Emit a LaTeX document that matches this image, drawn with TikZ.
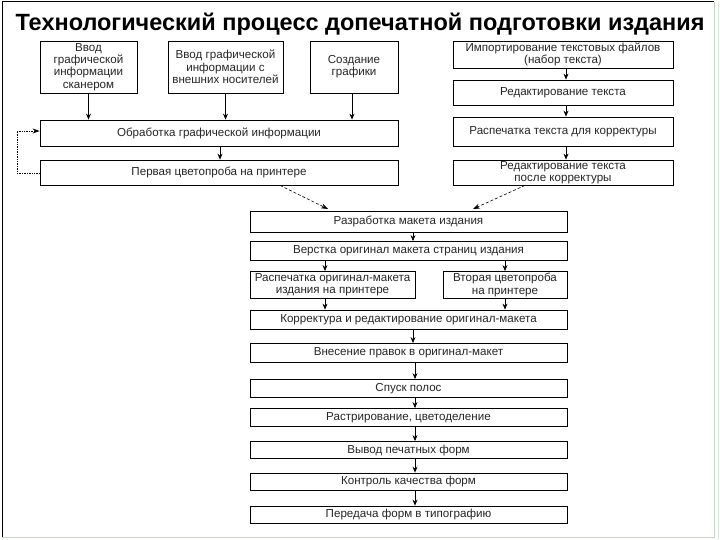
\documentclass[tikz,border=0pt]{standalone}
\usepackage{fontspec}
\setmainfont{Liberation Sans}
\usetikzlibrary{arrows.meta}
\begin{document}
\begin{tikzpicture}[x=1pt,y=-1pt,
  box/.style={draw=black, line width=0.8pt, fill=white, inner sep=0.3pt, align=center, font=\fontsize{11.6}{12.3}\selectfont, text=black!85},
  arr/.style={-{Stealth[length=6pt,width=5pt]}, line width=0.7pt},
  darr/.style={-{Stealth[length=7pt,width=5pt]}, line width=0.6pt, densely dashed},
  dotarr/.style={-{Stealth[length=7pt,width=5pt]}, line width=0.7pt, densely dotted}]
\useasboundingbox (0,0) rectangle (720,540);
% frame
\draw[line width=1pt] (2,537) -- (2,2) -- (714,2);
\draw[green!30!gray!40, line width=1pt] (714,2) -- (714,537) -- (2,537);
\draw[green!30!gray!25, line width=1pt] (718,2) -- (718,539);
% title
\node[font=\fontsize{23.5}{26}\selectfont\bfseries, anchor=base] (title) at (360,30.5) {Технологический процесс допечатной подготовки издания};
% left column
\node[box, minimum width=97, minimum height=52] (b1) at (88.5,67) {Ввод\\графической\\информации\\сканером};
\node[box, minimum width=115, minimum height=52] (b2) at (225.5,67) {Ввод графической\\информации с\\внешних носителей};
\node[box, minimum width=88, minimum height=52] (b3) at (354,67) {Создание\\графики};
\node[box, minimum width=358, minimum height=26] (b4) at (219,133) {Обработка графической информации};
\node[box, minimum width=358, minimum height=25] (b5) at (219,172.5) {Первая цветопроба на принтере};
% right column
\node[box, minimum width=220, minimum height=27] (r1) at (563,54.5) {Импортирование текстовых файлов\\(набор текста)};
\node[box, minimum width=220, minimum height=25] (r2) at (563,92.5) {Редактирование текста};
\node[box, minimum width=220, minimum height=29] (r3) at (563,131.5) {Распечатка текста для корректуры};
\node[box, minimum width=220, minimum height=25] (r4) at (563,172.5) {Редактирование текста\\после корректуры};
% main column
\node[box, minimum width=317, minimum height=21] (m1) at (408.5,221.5) {Разработка макета издания};
\node[box, minimum width=317, minimum height=19] (m2) at (408.5,251) {Верстка оригинал макета страниц издания};
\node[box, minimum width=165, minimum height=27] (m3a) at (332.5,285) {Распечатка оригинал-макета\\издания на принтере};
\node[box, minimum width=124, minimum height=27] (m3b) at (505,285) {Вторая цветопроба\\на принтере};
\node[box, minimum width=317, minimum height=19] (m4) at (408.5,319.5) {Корректура и редактирование оригинал-макета};
\node[box, minimum width=317, minimum height=19] (m5) at (408.5,353) {Внесение правок в оригинал-макет};
\node[box, minimum width=317, minimum height=18] (m6) at (408.5,388.5) {Спуск полос};
\node[box, minimum width=317, minimum height=18] (m7) at (408.5,417.5) {Растрирование, цветоделение};
\node[box, minimum width=317, minimum height=17] (m8) at (408.5,450) {Вывод печатных форм};
\node[box, minimum width=317, minimum height=17] (m9) at (408.5,481.5) {Контроль качества форм};
\node[box, minimum width=317, minimum height=17] (m10) at (408.5,514.5) {Передача форм в типографию};
% arrows left column
\draw[arr] (b1.south) -- (b1.south |- b4.north);
\draw[arr] (b2.south) -- (b2.south |- b4.north);
\draw[arr] (b3.south -| 352,0) -- (352,0 |- b4.north);
\draw[arr] (b4.south -| 220,0) -- (220,0 |- b5.north);
\coordinate (fbA) at (17,173);
\coordinate (fbB) at (17,131);
\draw[dotarr] (b5.west |- 0,173) -- (fbA) -- (fbB) -- (b4.west |- 0,131);
% arrows right column
\draw[arr] (r1.south -| 566,0) -- (566,0 |- r2.north);
\draw[arr] (r2.south -| 566,0) -- (566,0 |- r3.north);
\draw[arr] (r3.south -| 566,0) -- (566,0 |- r4.north);
% diagonal
\coordinate (dA) at (280,185);
\coordinate (dB) at (328,209);
\coordinate (dC) at (525,185);
\coordinate (dD) at (473,209);
\draw[darr] (b5.south -| dA) -- (dB);
\draw[darr] (r4.south -| dC) -- (dD);
% main arrows
\draw[arr] (m1.south -| 413,0) -- (413,0 |- m2.north);
\draw[arr] (m2.south -| 325,0) -- (325,0 |- m3a.north);
\draw[arr] (m2.south -| 505,0) -- (505,0 |- m3b.north);
\draw[arr] (m3a.south -| 325,0) -- (325,0 |- m4.north);
\draw[arr] (m3b.south -| 505,0) -- (505,0 |- m4.north);
\draw[arr] (m4.south -| 413,0) -- (413,0 |- m5.north);
\draw[arr] (m5.south -| 415,0) -- (415,0 |- m6.north);
\draw[arr] (m6.south -| 415,0) -- (415,0 |- m7.north);
\draw[arr] (m7.south -| 415,0) -- (415,0 |- m8.north);
\draw[arr] (m8.south -| 415,0) -- (415,0 |- m9.north);
\draw[arr] (m9.south -| 415,0) -- (415,0 |- m10.north);
\end{tikzpicture}
\end{document}
